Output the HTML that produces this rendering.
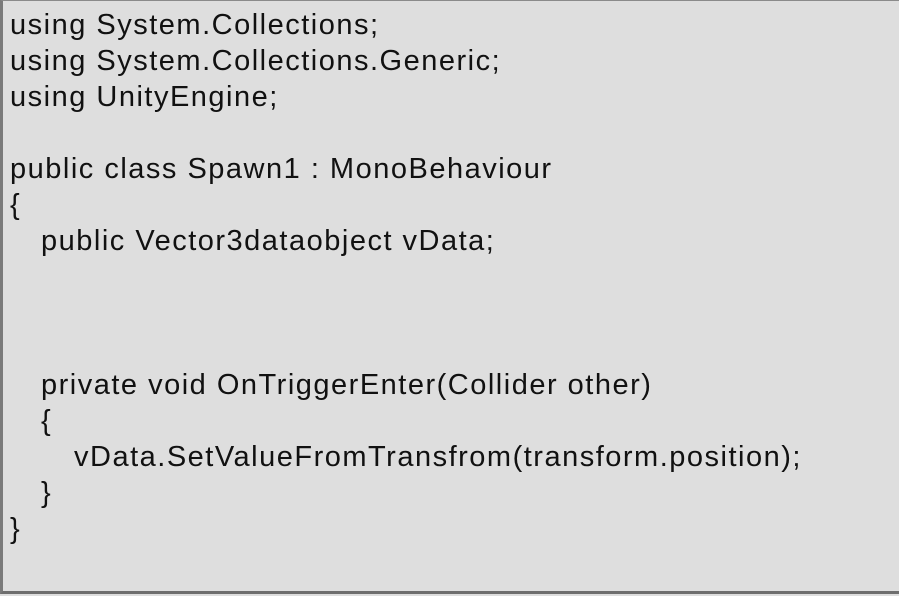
<!DOCTYPE html>
<html><head><style>
html,body{margin:0;padding:0;background:#dedede;}
.box{position:absolute;left:0;top:0;width:899px;height:594px;background:#dedede;border-left:3px solid #7a7a7a;border-top:1px solid #8a8a8a;border-bottom:3px solid #6e6e6e;box-sizing:border-box;}
.code{position:absolute;left:10px;top:7px;font-family:"Liberation Sans",sans-serif;font-size:29px;letter-spacing:1.5px;line-height:36px;color:#111;white-space:pre;}
.i1{padding-left:31px}.i2{padding-left:64px}
</style></head><body>
<div class="box"></div>
<div class="code"><div>using System.Collections;</div><div>using System.Collections.Generic;</div><div>using UnityEngine;</div><div>&nbsp;</div><div>public class Spawn1 : MonoBehaviour</div><div>{</div><div class="i1">public Vector3dataobject vData;</div><div>&nbsp;</div><div>&nbsp;</div><div>&nbsp;</div><div class="i1">private void OnTriggerEnter(Collider other)</div><div class="i1">{</div><div class="i2">vData.SetValueFromTransfrom(transform.position);</div><div class="i1">}</div><div>}</div></div>
</body></html>
